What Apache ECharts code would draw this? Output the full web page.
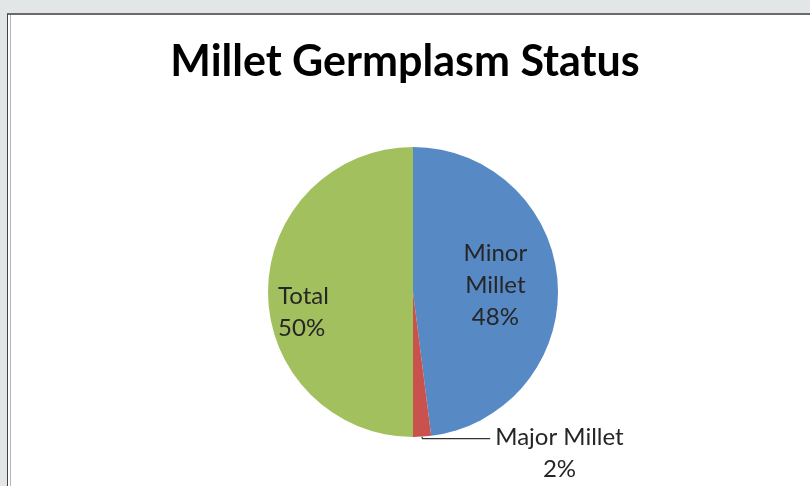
<!DOCTYPE html>
<html>
<head>
<meta charset="utf-8">
<script src="https://cdn.jsdelivr.net/npm/echarts@6/dist/echarts.min.js"></script>
<style>
    html, body { margin: 0; padding: 0; background: #e2e6e6; }
    .frame { position: absolute; left: 7px; top: 13px; width: 803px; height: 473px;
             border-top: 2px solid #6a6a6a; border-left: 1px solid #444; background: #fff; }
    .frame_in { position: absolute; left: 2px; top: 0; bottom: 0; border-left: 1px solid #b4b4b4; }
    #chart { position: absolute; left: 0; top: 0; width: 810px; height: 486px; }
</style>
</head>
<body>
<div class="frame"><div class="frame_in"></div></div>
<div id="chart"></div>
<script type="text/javascript">
    var categories = ['Minor Millet', 'Major Millet', 'Total'];
    var values = [48, 2, 50];
    var colors = ['#5789c5', '#c9524f', '#a3c05f'];

    var pieData = [];
    for (var i = 0; i < categories.length; i++) {
        pieData.push({ name: categories[i], value: values[i], itemStyle: { color: colors[i] } });
    }
    // Minor Millet - inside label
    pieData[0].label = {
        position: 'inside',
        formatter: '{b|Minor}\n{b|Millet}\n{b|{d}%}'
    };
    // Major Millet - outside with leader line
    pieData[1].label = {
        position: 'outside',
        padding: [30, 0, 0, 0],
        formatter: '{b|Major Millet}\n{b|{d}%}'
    };
    pieData[1].labelLine = { show: true, length: 2, length2: 68, lineStyle: { color: '#000', width: 1 } };
    // Total - inside label
    pieData[2].label = {
        position: 'inside',
        formatter: '{a|Total}\n{a|{d}%}'
    };

    var chart = echarts.init(document.getElementById('chart'));
    var option = {
        backgroundColor: 'transparent',
        animation: false,
        title: {
            text: 'Millet Germplasm Status',
            left: 'center',
            top: 36,
            textStyle: { fontFamily: 'Lato', fontWeight: 'bold', fontSize: 43, color: '#000' }
        },
        series: [{
            type: 'pie',
            center: [413, 292],
            radius: 145,
            startAngle: 90,
            clockwise: true,
            avoidLabelOverlap: false,
            data: pieData,
            label: {
                fontFamily: 'Lato',
                fontSize: 24,
                color: '#262626',
                rich: {
                    a: { fontFamily: 'Lato', fontSize: 24, color: '#262626', lineHeight: 32, align: 'left' },
                    b: { fontFamily: 'Lato', fontSize: 24, color: '#262626', lineHeight: 32, align: 'center' }
                }
            },
            labelLine: { show: false },
            labelLayout: function (params) {
                if (params.dataIndex === 2) {
                    return { dx: -34, dy: 20 };
                }
                if (params.dataIndex === 0) {
                    return { dx: 7, dy: -2 };
                }
                return {};
            },
            emphasis: { disabled: true }
        }]
    };
    chart.setOption(option);
</script>
</body>
</html>
